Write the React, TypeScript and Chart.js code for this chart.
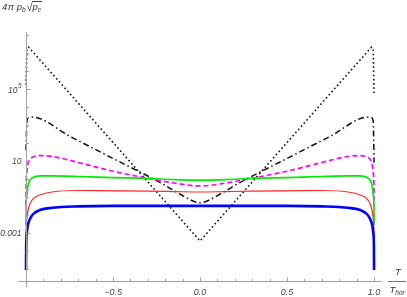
import React, { useEffect, useRef } from "react";
import { Chart, registerables } from "chart.js";

Chart.register(...registerables);

// ---- data (T / T_hor on x, 4π p_b √p_c on a log y axis) ----
const tGrid = [-1, -0.999, -0.995, -0.99, -0.98, -0.96, -0.92, -0.85, -0.7, -0.5, -0.3, -0.15, 0, 0.15, 0.3, 0.5, 0.7, 0.85, 0.92, 0.96, 0.98, 0.99, 0.995, 0.999, 1];
const blueValues = [8.7e-6, 2.1e-4, 1.1e-3, 2.5e-3, 5.3e-3, 0.011, 0.019, 0.025, 0.03, 0.032, 0.032, 0.032, 0.032, 0.032, 0.032, 0.032, 0.03, 0.025, 0.019, 0.011, 5.3e-3, 2.5e-3, 1.1e-3, 2.1e-4, 8.7e-6];
const redValues = [8.7e-5, 1.5e-3, 6.8e-3, 0.015, 0.036, 0.078, 0.13, 0.19, 0.23, 0.22, 0.21, 0.2, 0.19, 0.2, 0.21, 0.22, 0.23, 0.19, 0.13, 0.078, 0.036, 0.015, 6.8e-3, 1.5e-3, 8.7e-5];
const greenValues = [2.8e-3, 0.036, 0.13, 0.36, 0.78, 1.2, 1.48, 1.48, 1.38, 1.2, 1.07, 0.93, 0.87, 0.93, 1.07, 1.2, 1.38, 1.48, 1.48, 1.2, 0.78, 0.36, 0.13, 0.036, 2.8e-3];
const magentaValues = [0.036, 0.47, 2.4, 6.0, 11.4, 16.7, 20, 17.8, 8.3, 2.7, 1.1, 0.6, 0.41, 0.6, 1.1, 2.7, 8.3, 17.8, 20, 16.7, 11.4, 6.0, 2.4, 0.47, 0.036];

const dashDotT = [-1, -0.995, -0.985, -0.965, -0.75, -0.5, -0.25, -0.1, -0.05, 0, 0.05, 0.1, 0.25, 0.5, 0.75, 0.965, 0.985, 0.995, 1];
const dashDotValues = [40, 1580, 2500, 2750, 240, 13.8, 0.81, 0.12, 0.066, 0.047, 0.066, 0.12, 0.81, 13.8, 240, 2750, 2500, 1580, 8];

const dottedT = [-1, -0.995, -0.985, -0.75, -0.5, -0.25, 0, 0.25, 0.5, 0.75, 0.985, 0.995, 1];
const dottedValues = [1.7e5, 1.6e7, 2.1e7, 5.8e4, 107, 0.195, 3.6e-4, 0.195, 107, 5.8e4, 2.1e7, 1.6e7, 6e4];

const xTickValues = [-0.5, 0, 0.5, 1];
const xTickLabels = ["\u22120.5", "0.0", "0.5", "1.0"];
const yTickValues = [0.001, 10, 1e5];
const yTickLabels = ["0.001", "10", "10^5"];

const X_MIN = -1.046;
const X_MAX = 1.034;
const Y_MIN = 2.15e-6;
const Y_MAX = 1.47e8;

const pts = (xs: number[], ys: number[]) => xs.map((x, i) => ({ x, y: ys[i] }));

const FONT = '"Liberation Sans", Arial, sans-serif';

const axesPlugin = {
  id: "mmaAxes",
  afterDatasetsDraw(chart: any) {
    const ctx = chart.ctx as CanvasRenderingContext2D;
    const xs = chart.scales.x;
    const ys = chart.scales.y;
    const ca = chart.chartArea;
    const x0 = Math.round(xs.getPixelForValue(-1)) + 0.5;
    const yb = Math.round(ca.bottom) + 0.5;
    ctx.save();
    ctx.strokeStyle = "#a0a0a0";
    ctx.lineWidth = 1;
    // x axis
    ctx.beginPath();
    ctx.moveTo(ca.left, yb);
    ctx.lineTo(ca.right + 2, yb);
    ctx.stroke();
    // y axis
    ctx.beginPath();
    ctx.moveTo(x0, ca.top);
    ctx.lineTo(x0, yb + 6);
    ctx.stroke();
    // x ticks
    for (let k = -10; k <= 10; k++) {
      const v = k / 10;
      const px = Math.round(xs.getPixelForValue(v)) + 0.5;
      const major = k % 5 === 0;
      ctx.beginPath();
      ctx.moveTo(px, yb);
      ctx.lineTo(px, yb - (major ? 4 : 2.5));
      ctx.stroke();
    }
    // y ticks
    for (let e = -5; e <= 8; e++) {
      const py = Math.round(ys.getPixelForValue(Math.pow(10, e))) + 0.5;
      const major = (e - 1) % 4 === 0;
      ctx.beginPath();
      ctx.moveTo(x0, py);
      ctx.lineTo(x0 + (major ? 4 : 2.5), py);
      ctx.stroke();
    }
    // tick labels
    ctx.fillStyle = "#444";
    ctx.font = `italic 9px ${FONT}`;
    ctx.textBaseline = "alphabetic";
    ctx.textAlign = "center";
    xTickValues.forEach((v, i) => {
      ctx.fillText(xTickLabels[i], xs.getPixelForValue(v), 295);
    });
    const right = x0 - 5;
    yTickValues.forEach((v, i) => {
      const py = ys.getPixelForValue(v);
      const lab = yTickLabels[i];
      ctx.textAlign = "right";
      if (lab.includes("^")) {
        const [base, sup] = lab.split("^");
        ctx.font = `italic 6.5px ${FONT}`;
        const sw = ctx.measureText(sup).width;
        ctx.fillText(sup, right, py - 1);
        ctx.font = `italic 8.5px ${FONT}`;
        ctx.fillText(base, right - sw - 0.5, py + 3.5);
      } else {
        ctx.font = `italic 8.5px ${FONT}`;
        ctx.fillText(lab, right, py + 3.5);
      }
    });
    // y axis label: 4π p_b √p_c
    ctx.textAlign = "left";
    ctx.fillStyle = "#333";
    let cx = 2;
    const by = 10;
    ctx.font = `italic 9.5px ${FONT}`;
    ctx.fillText("4", cx, by); cx += ctx.measureText("4").width + 0.5;
    ctx.fillText("\u03c0", cx, by); cx += ctx.measureText("\u03c0").width + 2.5;
    ctx.fillText("p", cx, by); cx += ctx.measureText("p").width;
    ctx.font = `italic 6.5px ${FONT}`;
    ctx.fillText("b", cx, by + 2); cx += ctx.measureText("b").width + 1;
    ctx.font = `11px ${FONT}`;
    ctx.fillText("\u221a", cx, by + 1); cx += ctx.measureText("\u221a").width;
    const ovStart = cx - 0.5;
    ctx.font = `italic 9.5px ${FONT}`;
    ctx.fillText("p", cx, by); cx += ctx.measureText("p").width;
    ctx.font = `italic 6.5px ${FONT}`;
    ctx.fillText("c", cx, by + 2); cx += ctx.measureText("c").width + 1;
    ctx.strokeStyle = "#333";
    ctx.lineWidth = 0.9;
    ctx.beginPath();
    ctx.moveTo(ovStart, 1.5);
    ctx.lineTo(cx, 1.5);
    ctx.stroke();
    // x axis label: T / T_hor
    ctx.font = `italic 9.5px ${FONT}`;
    ctx.textAlign = "center";
    ctx.fillText("T", 398, 275);
    ctx.strokeStyle = "#777";
    ctx.lineWidth = 1;
    ctx.beginPath();
    ctx.moveTo(388, yb);
    ctx.lineTo(406, yb);
    ctx.stroke();
    ctx.textAlign = "left";
    ctx.fillText("T", 389.5, 293);
    const tw = ctx.measureText("T").width;
    ctx.font = `italic 6.5px ${FONT}`;
    ctx.fillText("hor", 389.5 + tw, 295);
    ctx.restore();
  },
};

export default function App() {
  const ref = useRef<HTMLCanvasElement | null>(null);
  useEffect(() => {
    if (!ref.current) return;
    const chart = new Chart(ref.current, {
      type: "line",
      data: {
        datasets: [
          {
            label: "blue",
            data: pts(tGrid, blueValues),
            borderColor: "rgb(0,0,255)",
            borderWidth: 2.6,
            pointRadius: 0,
            cubicInterpolationMode: "monotone",
            order: 1,
          },
          {
            label: "red",
            data: pts(tGrid, redValues),
            borderColor: "rgb(255,40,40)",
            borderWidth: 1.2,
            pointRadius: 0,
            cubicInterpolationMode: "monotone",
            order: 2,
          },
          {
            label: "green",
            data: pts(tGrid, greenValues),
            borderColor: "rgb(0,235,0)",
            borderWidth: 1.7,
            pointRadius: 0,
            cubicInterpolationMode: "monotone",
            order: 3,
          },
          {
            label: "magenta",
            data: pts(tGrid, magentaValues),
            borderColor: "rgb(255,0,255)",
            borderWidth: 1.7,
            borderDash: [5, 3],
            pointRadius: 0,
            cubicInterpolationMode: "monotone",
            order: 4,
          },
          {
            label: "dashdot",
            data: pts(dashDotT, dashDotValues),
            borderColor: "#111",
            borderWidth: 1.5,
            borderDash: [6, 3, 1.5, 3],
            pointRadius: 0,
            cubicInterpolationMode: "monotone",
            order: 5,
          },
          {
            label: "dotted",
            data: pts(dottedT, dottedValues),
            borderColor: "#111",
            borderWidth: 1.6,
            borderDash: [1.6, 2.6],
            pointRadius: 0,
            tension: 0,
            order: 6,
          },
        ],
      },
      options: {
        responsive: false,
        animation: false,
        parsing: true,
        layout: { padding: { left: 18, right: 27, top: 32, bottom: 16 } },
        plugins: { legend: { display: false }, tooltip: { enabled: false } },
        scales: {
          x: {
            type: "linear",
            min: X_MIN,
            max: X_MAX,
            bounds: "data",
            display: false,
          },
          y: {
            type: "logarithmic",
            min: Y_MIN,
            max: Y_MAX,
            bounds: "data",
            display: false,
          },
        },
      },
      plugins: [axesPlugin],
    } as any);
    return () => chart.destroy();
  }, []);
  return (
    <div style={{ position: "fixed", left: 0, top: 0, width: 407, height: 297, background: "#fff" }}>
      <canvas ref={ref} width={407} height={297} />
    </div>
  );
}
